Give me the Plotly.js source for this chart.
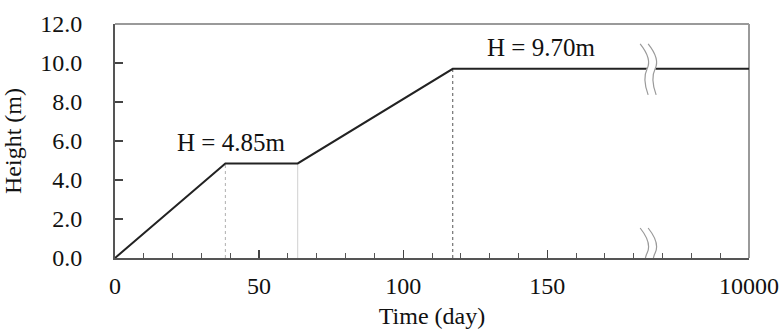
<!DOCTYPE html>
<html>
<head>
<meta charset="utf-8">
<script src="https://cdn.plot.ly/plotly-3.0.1.min.js"></script>
<style>
  html, body { margin: 0; padding: 0; background: #fff; }
  #chart { width: 779px; height: 331px; }
</style>
</head>
<body>
<div id="chart"></div>
<script>
// Embankment construction history: fill height against elapsed time.
// The last point stands for day 10000, drawn past a scale break.
const timeDays = [0, 38.3, 63.4, 117.2, 220];
const heightM = [0, 4.85, 4.85, 9.70, 9.70];

// Ends of the two fill stages and the rest period (vertical guides)
const guideDays = [38.3, 63.4, 117.2];
const guideHeights = [4.85, 4.85, 9.70];
const guideColors = ['#b0b0b0', '#d0d0d0', '#555555'];
const guideDash = ['dot', 'solid', 'dot'];

// Stage height labels
const stageHeights = [4.85, 9.70];
const stageLabelDays = [40.3, 147.9];

// X tick labels (the last tick is day 10000, after the break)
const xTickVals = [0, 50, 100, 150, 220];
const xTickText = ['0', '50', '100', '150', '10000'];
const yTickVals = [0, 2, 4, 6, 8, 10, 12];
const yTickText = ['0.0', '2.0', '4.0', '6.0', '8.0', '10.0', '12.0'];

const breakDay = 185;

const FONT = 'Liberation Serif, Times New Roman, serif';

const traces = [];
guideDays.forEach((d, i) => {
  traces.push({
    x: [d, d], y: [0, guideHeights[i]],
    mode: 'lines', hoverinfo: 'skip', showlegend: false,
    line: { color: guideColors[i], width: 1, dash: guideDash[i] }
  });
});
traces.push({
  x: timeDays, y: heightM,
  mode: 'lines', showlegend: false,
  line: { color: '#222222', width: 2 }
});

// Wavy scale-break symbol, offsets in pixels around an anchor point
function wave(dx, dy) {
  const p = (x, y) => (x + dx) + ',' + (y + dy);
  return 'M' + p(-8, 25) + ' Q' + p(4, 10) + ' ' + p(-1, 0) +
         ' Q' + p(-6, -10) + ' ' + p(0, -26);
}
function waveFill(dx, dy) {
  const p = (x, y) => (x + dx) + ',' + (y + dy);
  return 'M' + p(-8, 25) + ' Q' + p(4, 10) + ' ' + p(-1, 0) +
         ' Q' + p(-6, -10) + ' ' + p(0, -26) +
         ' L' + p(8, -26) + ' Q' + p(2, -10) + ' ' + p(7, 0) +
         ' Q' + p(12, 10) + ' ' + p(0, 25) + ' Z';
}
function breakShapes(yAnchor, dy) {
  const base = {
    type: 'path', xref: 'x', yref: 'y',
    xsizemode: 'pixel', ysizemode: 'pixel',
    xanchor: breakDay, yanchor: yAnchor, layer: 'above'
  };
  return [
    Object.assign({}, base, { path: waveFill(0, dy), fillcolor: '#ffffff', opacity: 1, line: { color: '#ffffff', width: 1 } }),
    Object.assign({}, base, { path: wave(0, dy), line: { color: '#9a9a9a', width: 1.2 } }),
    Object.assign({}, base, { path: wave(8, dy), line: { color: '#9a9a9a', width: 1.2 } })
  ];
}

const shapes = [
  // lighter top and right frame
  { type: 'line', xref: 'paper', yref: 'paper', x0: 0, x1: 1, y0: 1, y1: 1,
    line: { color: '#9a9a9a', width: 2 }, layer: 'below' },
  { type: 'line', xref: 'paper', yref: 'paper', x0: 1, x1: 1, y0: 0, y1: 1,
    line: { color: '#9a9a9a', width: 2 }, layer: 'below' }
].concat(breakShapes(heightM[heightM.length - 1], 0), breakShapes(0, 5));

const annotations = stageHeights.map((h, i) => ({
  x: stageLabelDays[i], y: h, xref: 'x', yref: 'y',
  text: 'H = ' + h.toFixed(2) + 'm', showarrow: false,
  yanchor: 'middle', yshift: 21,
  font: { family: FONT, size: 25, color: '#111' }
}));

const layout = {
  width: 779, height: 331,
  margin: { l: 115, r: 30, t: 24, b: 73 },
  paper_bgcolor: '#fff', plot_bgcolor: '#fff',
  font: { family: FONT, size: 24, color: '#111' },
  showlegend: false,
  xaxis: {
    range: [0, 220], tickmode: 'array', tickvals: xTickVals, ticktext: xTickText,
    ticks: 'inside', ticklen: 8, tickwidth: 1.2, tickcolor: '#444',
    minor: { tickmode: 'linear', tick0: 0, dtick: 10, ticks: 'inside', ticklen: 5, tickwidth: 1, tickcolor: '#555' },
    showline: true, linecolor: '#555', linewidth: 2,
    showgrid: false, zeroline: false, ticklabelstandoff: 5,
    tickfont: { family: FONT, size: 24, color: '#111' },
    title: { text: 'Time (day)', standoff: 9, font: { family: FONT, size: 24, color: '#111' } }
  },
  yaxis: {
    range: [0, 12], tickmode: 'array', tickvals: yTickVals, ticktext: yTickText,
    ticks: 'inside', ticklen: 8, tickwidth: 1.2, tickcolor: '#444',
    showline: true, linecolor: '#555', linewidth: 2,
    showgrid: false, zeroline: false, ticklabelstandoff: 26,
    tickfont: { family: FONT, size: 24, color: '#111' },
    title: { text: 'Height (m)', standoff: 16, font: { family: FONT, size: 24, color: '#111' } }
  },
  shapes: shapes,
  annotations: annotations
};

Plotly.newPlot('chart', traces, layout, { staticPlot: true, displayModeBar: false });
</script>
</body>
</html>
